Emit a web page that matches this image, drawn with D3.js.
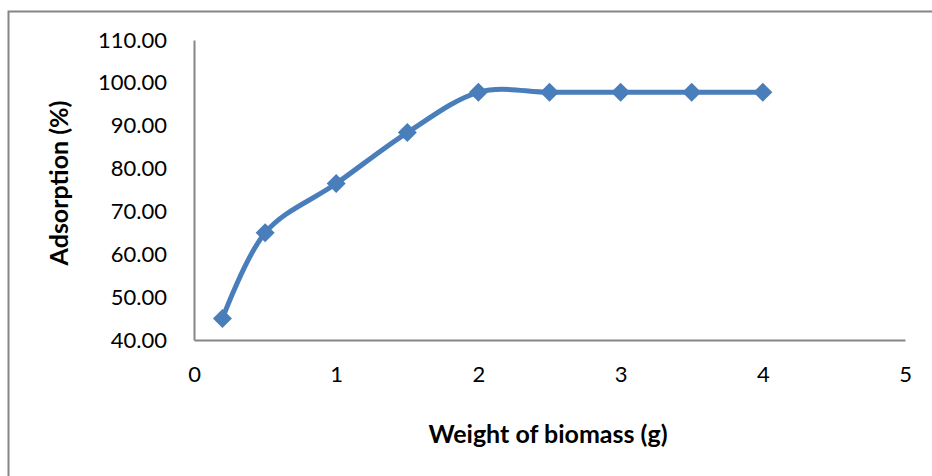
<!DOCTYPE html>
<html>
<head>
<meta charset="utf-8">
<script src="https://cdn.jsdelivr.net/npm/d3@7"></script>
<style>
  html, body { margin: 0; padding: 0; background: #fff; }
  svg { display: block; }
  text { font-family: Lato, "Open Sans", sans-serif; fill: #000; }
</style>
</head>
<body>
<svg id="chart" width="932" height="476"></svg>
<script>
// Adsorption versus weight of biomass
const weights = [0.2, 0.5, 1, 1.5, 2, 2.5, 3, 3.5, 4];
const adsorption = [45.0, 65.0, 76.5, 88.4, 97.8, 97.8, 97.8, 97.8, 97.8];
const xTicks = [0, 1, 2, 3, 4, 5];
const yTicks = [40, 50, 60, 70, 80, 90, 100, 110];
const xTitle = "Weight of biomass (g)";
const yTitle = "Adsorption (%)";

const svg = d3.select("#chart");
const plot = { left: 194, right: 905, top: 40, bottom: 340 };
const lineColor = "#4a7ebb";
const axisColor = "#868686";

// outer chart frame
svg.append("rect")
  .attr("x", 8.5).attr("y", 11.5)
  .attr("width", 940).attr("height", 480)
  .attr("fill", "none").attr("stroke", axisColor).attr("stroke-width", 2);

const x = d3.scaleLinear().domain([0, 5]).range([plot.left, plot.right]);
const y = d3.scaleLinear().domain([40, 110]).range([plot.bottom, plot.top]);

// axes
const xAxis = d3.axisBottom(x).tickValues(xTicks).tickSize(0).tickPadding(34)
  .tickFormat(d3.format("d"));
const yAxis = d3.axisLeft(y).tickValues(yTicks).tickSize(0).tickPadding(27)
  .tickFormat(d3.format(".2f"));

const gx = svg.append("g").attr("transform", `translate(0,${plot.bottom})`).call(xAxis);
const gy = svg.append("g").attr("transform", `translate(${plot.left},0)`).call(yAxis);
[gx, gy].forEach(g => {
  g.select(".domain").attr("stroke", axisColor).attr("stroke-width", 2);
  g.selectAll("text").attr("font-size", 22).attr("fill", "#000")
    .style("font-family", "Lato, 'Open Sans', sans-serif");
});
gx.selectAll("text").attr("dy", "0.35em");

// axis titles
svg.append("text")
  .attr("x", 548).attr("y", 443)
  .attr("text-anchor", "middle")
  .attr("font-size", 25).attr("font-weight", "bold")
  .text(xTitle);

svg.append("text")
  .attr("transform", "translate(68,183) rotate(-90)")
  .attr("text-anchor", "middle")
  .attr("font-size", 25).attr("font-weight", "bold")
  .text(yTitle);

// smoothed series line
const pts = weights.map((w, i) => [w, adsorption[i]]);
const line = d3.line()
  .x(d => x(d[0])).y(d => y(d[1]))
  .curve(d3.curveCardinal.tension(0));

svg.append("path")
  .datum(pts)
  .attr("d", line)
  .attr("fill", "none")
  .attr("stroke", lineColor)
  .attr("stroke-width", 5)
  .attr("stroke-linejoin", "round");

// diamond markers
const s = 9.5;
svg.append("g").selectAll("path")
  .data(pts)
  .join("path")
  .attr("transform", d => `translate(${x(d[0])},${y(d[1])})`)
  .attr("d", `M0,${-s}L${s},0L0,${s}L${-s},0Z`)
  .attr("fill", lineColor);
</script>
</body>
</html>
